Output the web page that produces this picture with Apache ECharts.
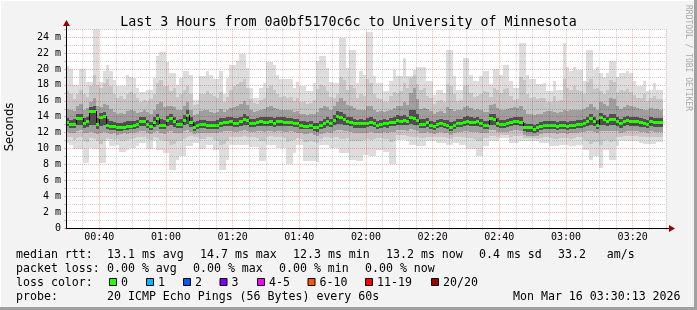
<!DOCTYPE html>
<html><head><meta charset="utf-8">
<script src="https://cdn.jsdelivr.net/npm/echarts@6/dist/echarts.min.js"></script>
<style>html,body{margin:0;padding:0;background:#f3f3f3}#c{width:697px;height:310px}</style>
</head><body><div id="c"></div>
<script>
// minutes since midnight of the first one-minute step (00:30)
const startMinute = 30;
const xTickLabels = ['00:40','01:00','01:20','01:40','02:00','02:20','02:40','03:00','03:20'];
const yTickLabels = ['0','2 m','4 m','6 m','8 m','10 m','12 m','14 m','16 m','18 m','20 m','22 m','24 m'];

// median rtt per minute (ms)
const median = [13.3,13.1,13.1,13.8,13.8,13.15,13.4,14.75,14.75,13.1,
 13.9,14.1,13.0,12.8,12.8,12.7,12.65,12.75,12.85,12.85,
 13.0,13.1,13.4,13.4,13.1,12.8,13.3,13.8,12.95,12.95,
 13.55,13.8,13.4,13.1,13.1,13.6,14.2,13.3,12.75,12.95,
 13.1,13.1,13.0,13.0,13.0,13.0,13.2,13.3,13.3,13.4,
 13.2,13.2,13.4,13.65,13.55,13.2,13.2,13.3,13.4,13.35,
 13.3,13.4,13.2,13.4,13.4,13.35,13.3,13.3,13.2,13.2,
 12.95,12.85,12.85,13.0,12.7,12.65,12.95,13.15,13.4,13.2,
 13.6,14.1,14.0,13.7,13.5,13.3,13.15,13.15,13.15,13.15,
 13.2,13.3,13.2,13.0,13.1,13.2,13.15,13.3,13.3,13.6,
 13.5,13.55,13.4,13.9,13.8,13.6,13.1,13.1,13.3,13.0,
 12.8,13.1,13.2,13.1,12.95,12.7,13.0,13.2,13.2,13.3,
 13.5,13.35,13.3,13.4,13.2,12.95,12.95,13.8,13.7,13.2,
 13.1,13.1,13.2,13.3,13.45,13.45,13.3,12.65,12.65,12.65,
 12.5,12.65,12.8,12.95,13.0,13.0,13.0,12.8,12.95,12.95,
 12.8,12.95,13.0,13.1,13.1,13.2,13.4,13.8,13.4,13.0,
 13.9,13.65,13.4,13.65,13.65,13.4,13.15,13.4,13.6,13.45,
 13.4,13.4,13.3,13.2,13.1,13.4,13.3,13.3,13.3];

// smoke envelope: highest ping per minute
const hi1 = [20.4,20.0,18.0,18.0,20.0,20.0,18.4,18.4,25.3,25.3,
 18.4,19.7,20.5,19.7,18.6,17.8,17.8,17.8,19.3,19.0,
 18.9,17.6,17.1,17.1,17.4,17.4,18.9,21.6,22.1,22.1,
 20.9,19.5,19.5,18.0,18.9,19.7,19.7,19.3,16.1,16.1,
 19.1,19.1,19.7,19.3,18.7,18.7,19.7,16.8,18.9,20.5,
 20.5,21.0,21.9,21.9,20.1,17.6,16.4,16.4,17.6,18.2,
 20.9,20.9,20.5,19.3,18.7,18.7,18.7,18.7,17.6,18.4,
 17.8,17.8,17.2,17.2,18.2,21.0,21.6,21.6,20.1,18.4,
 18.2,18.2,23.9,23.9,20.1,22.4,22.4,18.3,19.7,19.3,
 24.65,24.65,19.1,18.3,18.3,17.2,17.2,18.5,19.9,19.1,
 19.1,21.4,19.1,19.1,19.9,20.3,20.3,20.3,18.5,18.5,
 16.7,17.4,17.4,17.0,22.4,22.4,19.1,17.4,17.4,21.4,
 21.4,19.3,18.5,18.5,19.1,19.7,19.7,18.1,20.0,20.0,
 19.3,20.5,20.5,18.5,17.6,17.6,23.3,23.3,19.3,18.7,
 18.7,18.1,18.1,18.3,17.2,17.2,18.5,17.4,17.4,23.3,
 20.3,19.7,20.3,19.9,19.9,18.5,22.4,22.4,19.9,20.3,
 19.5,19.0,19.5,21.0,21.0,19.0,19.5,19.5,19.8,19.5,
 18.5,17.8,17.8,18.5,17.2,17.4,18.2,17.4,17.4];
const hi2 = [17.2,16.8,16.2,16.9,17.4,16.8,16.5,17.8,19.2,18.0,
 17.6,18.3,18.8,17.9,16.9,16.4,16.6,16.2,16.8,17.1,
 16.9,16.3,15.9,16.1,16.0,16.2,16.8,18.2,18.6,17.9,
 17.8,17.2,17.6,16.5,16.9,17.4,17.8,16.9,15.5,15.6,
 16.8,16.9,17.2,16.9,16.6,16.4,17.1,15.9,16.5,17.4,
 17.8,18.1,18.4,18.7,17.6,16.2,15.7,15.6,16.1,16.4,
 17.6,17.8,17.3,16.9,16.5,16.6,16.4,16.5,16.0,16.3,
 15.9,15.8,15.6,15.7,16.1,17.5,18.0,17.8,17.2,16.5,
 16.4,16.9,19.0,18.6,17.4,18.0,17.6,16.3,16.9,16.6,
 18.8,18.2,16.9,16.4,16.2,15.8,15.9,16.6,17.1,17.0,
 17.2,18.3,17.6,18.9,19.3,18.1,17.4,17.6,16.6,16.4,
 15.6,16.0,16.1,15.8,18.1,17.9,16.8,16.0,16.1,17.9,
 18.0,17.0,16.5,16.6,16.9,17.2,17.1,16.5,17.6,17.3,
 17.0,17.5,17.6,16.6,16.1,16.2,19.0,18.6,16.8,16.4,
 16.5,16.2,16.3,16.4,15.8,15.9,16.6,16.0,16.1,18.8,
 17.6,17.3,17.8,17.4,17.2,16.9,18.4,18.7,17.5,17.6,
 17.2,16.9,17.4,18.6,18.4,17.1,17.3,17.2,17.5,17.1,
 16.7,16.3,16.4,16.8,16.0,16.3,16.6,16.2,16.2];
const hi3 = [15.0,14.8,14.7,15.4,15.6,14.9,15.1,15.9,16.4,15.3,
 15.2,15.6,15.5,15.0,14.6,14.4,14.5,14.3,14.7,14.8,
 14.7,14.5,14.6,14.8,14.6,14.3,14.9,15.6,15.9,15.2,
 15.3,15.4,15.2,14.8,14.9,15.3,15.8,14.9,14.2,14.4,
 14.7,14.8,14.9,14.6,14.5,14.6,15.0,14.6,14.8,15.1,
 15.2,15.3,15.6,16.0,15.5,14.8,14.6,14.7,14.9,15.0,
 15.2,15.4,15.1,15.0,14.9,14.9,14.8,14.8,14.6,14.7,
 14.4,14.3,14.2,14.4,14.3,14.6,15.1,15.3,15.2,14.9,
 15.4,15.9,16.4,16.0,15.5,15.4,15.1,14.8,14.9,14.8,
 15.3,15.4,14.9,14.6,14.7,14.6,14.7,14.9,15.1,15.4,
 15.4,15.8,15.5,17.0,17.6,16.2,15.0,15.1,15.0,14.7,
 14.4,14.6,14.7,14.5,15.2,15.0,14.7,14.8,14.9,15.2,
 15.4,15.1,14.9,15.0,14.9,14.6,14.6,15.5,15.6,15.1,
 14.9,14.9,15.0,15.1,15.2,15.1,15.3,14.8,14.3,14.3,
 14.2,14.3,14.4,14.6,14.7,14.7,14.6,14.5,14.6,14.9,
 14.7,14.8,14.8,14.9,14.9,15.0,15.2,15.6,15.2,14.9,
 15.8,15.6,15.4,16.4,16.2,15.4,15.0,15.2,15.5,15.3,
 15.2,15.1,15.0,14.9,14.8,15.1,15.0,15.0,14.9];
const hi4 = [13.8,13.6,13.7,14.3,14.4,13.8,14.0,15.2,15.3,13.8,
 14.5,14.6,13.7,13.4,13.3,13.2,13.2,13.3,13.4,13.4,
 13.5,13.6,13.9,13.9,13.6,13.3,13.9,14.4,13.7,13.6,
 14.1,14.3,14.0,13.6,13.7,14.2,14.8,13.9,13.3,13.5,
 13.6,13.6,13.5,13.5,13.5,13.6,13.8,13.8,13.9,14.0,
 13.8,13.8,14.0,14.3,14.1,13.7,13.7,13.8,13.9,13.9,
 13.9,14.0,13.8,13.9,13.9,13.9,13.8,13.8,13.7,13.7,
 13.5,13.4,13.3,13.5,13.2,13.2,13.5,13.7,13.9,13.7,
 14.2,14.7,14.6,14.3,14.0,13.9,13.7,13.6,13.7,13.6,
 13.8,13.9,13.7,13.5,13.6,13.7,13.6,13.8,13.9,14.2,
 14.1,14.2,14.0,14.8,14.9,14.3,13.7,13.7,13.8,13.5,
 13.3,13.6,13.7,13.6,13.6,13.3,13.5,13.7,13.7,13.9,
 14.1,13.9,13.8,13.9,13.7,13.5,13.5,14.4,14.3,13.8,
 13.6,13.6,13.7,13.8,14.0,14.0,13.9,13.2,13.1,13.1,
 13.0,13.1,13.3,13.4,13.5,13.5,13.5,13.3,13.4,13.5,
 13.3,13.4,13.5,13.6,13.6,13.7,14.0,14.4,14.0,13.6,
 14.5,14.2,14.0,14.4,14.3,14.0,13.7,13.9,14.1,14.0,
 13.9,13.9,13.8,13.7,13.6,13.9,13.8,13.8,13.8];
const lo4 = [12.8,12.6,12.6,12.9,12.9,12.6,12.7,13.0,12.9,12.5,
 12.8,12.9,12.5,12.3,12.3,12.2,12.2,12.3,12.3,12.4,
 12.5,12.6,12.8,12.8,12.6,12.3,12.7,12.9,12.4,12.4,
 12.8,12.9,12.7,12.6,12.6,12.9,13.1,12.7,12.2,12.4,
 12.6,12.6,12.5,12.5,12.5,12.5,12.7,12.8,12.8,12.8,
 12.7,12.7,12.8,12.9,12.9,12.7,12.7,12.8,12.8,12.8,
 12.8,12.8,12.7,12.8,12.8,12.8,12.8,12.8,12.7,12.7,
 12.5,12.4,12.4,12.5,12.2,12.1,12.4,12.6,12.8,12.7,
 12.9,13.1,13.1,12.9,12.9,12.8,12.6,12.6,12.6,12.6,
 12.7,12.8,12.7,12.5,12.6,12.7,12.6,12.8,12.8,13.0,
 12.9,13.0,12.9,13.1,13.0,12.9,12.6,12.6,12.7,12.5,
 12.3,12.6,12.7,12.6,12.4,12.2,12.5,12.7,12.7,12.8,
 12.9,12.8,12.8,12.8,12.7,12.4,12.4,13.0,13.0,12.7,
 12.6,12.6,12.7,12.8,12.9,12.9,12.8,12.2,12.1,12.1,
 12.0,12.1,12.3,12.4,12.5,12.5,12.5,12.3,12.4,12.4,
 12.3,12.4,12.5,12.6,12.6,12.7,12.8,13.0,12.8,12.5,
 13.0,12.9,12.8,12.9,12.9,12.8,12.6,12.8,12.9,12.8,
 12.8,12.8,12.7,12.7,12.6,12.8,12.7,12.7,12.7];
const lo3 = [12.1,12.0,11.9,12.2,12.3,12.0,12.0,12.1,12.0,11.8,
 11.9,12.1,11.9,11.8,11.9,11.7,11.8,11.9,11.8,12.0,
 12.0,12.1,12.2,12.2,12.0,11.8,12.1,12.2,11.9,11.8,
 12.1,12.2,12.0,11.9,12.0,12.2,12.3,12.1,11.8,11.9,
 12.0,12.0,11.9,12.0,11.9,11.9,12.1,12.2,12.2,12.2,
 12.1,12.1,12.2,12.3,12.2,12.1,12.1,12.2,12.2,12.1,
 12.2,12.2,12.1,12.2,12.2,12.1,12.1,12.2,12.1,12.0,
 11.9,11.8,11.8,11.9,11.7,11.6,11.8,12.0,12.1,12.0,
 12.2,12.3,12.3,12.2,12.2,12.1,12.0,12.0,12.0,12.0,
 12.0,12.1,12.0,11.9,12.0,12.1,12.0,12.1,12.1,12.3,
 12.3,12.3,12.2,12.4,12.3,12.2,12.0,12.0,12.1,11.9,
 11.8,12.0,12.1,12.0,11.9,11.7,11.9,12.1,12.1,12.2,
 12.2,12.1,12.1,12.1,12.0,11.9,11.9,12.3,12.3,12.1,
 12.1,12.1,12.1,12.2,12.3,12.3,12.2,11.7,11.6,11.6,
 11.6,11.6,11.8,11.9,12.0,12.0,12.0,11.8,11.9,11.9,
 11.8,11.9,12.0,12.0,12.1,12.1,12.2,12.2,12.1,11.9,
 12.2,12.2,12.2,12.2,12.2,12.2,12.0,12.1,12.2,12.2,
 12.2,12.2,12.1,12.1,12.0,12.2,12.1,12.1,12.1];
const lo2 = [11.5,11.4,11.1,11.3,11.5,11.0,10.8,11.3,11.2,11.0,
 10.6,10.9,11.3,11.2,11.1,11.2,10.9,11.0,11.1,11.2,
 11.3,11.4,11.5,11.5,11.2,11.1,11.5,11.3,11.1,10.9,
 11.0,10.4,10.6,10.9,11.0,11.2,11.5,11.6,11.4,11.4,
 11.2,11.2,11.4,11.4,11.1,11.0,10.5,10.6,11.0,11.4,
 11.5,11.4,11.5,11.6,11.5,11.4,11.4,11.3,11.0,11.0,
 11.5,11.6,11.5,11.4,11.4,11.3,10.8,10.9,11.1,11.3,
 11.2,10.8,10.8,10.9,10.8,10.7,11.2,11.4,11.5,11.3,
 11.4,11.5,11.2,11.2,11.3,11.0,11.0,10.9,11.0,11.1,
 11.2,11.1,11.2,11.3,11.3,11.2,11.2,10.8,10.9,11.7,
 11.7,11.7,11.6,11.5,11.5,11.4,11.3,11.3,11.5,11.5,
 11.4,11.5,11.5,11.4,11.3,11.2,11.4,11.5,11.4,11.4,
 11.3,11.3,11.2,10.9,10.9,11.3,11.3,11.6,11.6,11.5,
 11.7,11.7,11.7,11.5,11.6,11.6,11.6,11.3,11.3,11.3,
 11.3,11.2,11.3,11.4,11.4,11.3,11.2,11.2,11.3,11.3,
 11.3,11.2,11.3,11.4,11.4,11.1,11.0,10.6,10.8,10.8,
 10.4,11.0,11.1,10.8,10.9,11.4,11.5,11.6,11.6,11.6,
 11.6,11.6,11.5,11.5,11.4,11.5,11.5,11.5,11.5];
// smoke envelope: lowest ping per minute
const lo1 = [10.7,10.5,9.9,9.9,9.9,8.2,8.2,10.1,9.9,9.9,
 8.2,8.2,10.9,10.3,10.3,10.5,9.5,9.5,9.85,10.1,
 10.1,10.3,10.7,10.7,9.9,9.9,10.9,9.85,9.85,9.4,
 9.4,7.3,7.3,8.6,9.1,9.1,10.3,10.3,10.7,10.7,
 9.9,9.9,10.5,10.5,9.85,9.85,7.3,7.3,8.6,10.5,
 10.5,10.4,10.4,10.4,10.4,10.2,10.2,10.2,8.4,8.4,
 10.5,10.5,10.5,10.1,10.1,10.1,8.0,8.0,9.4,10.5,
 10.5,8.4,8.4,8.4,8.4,8.3,10.5,10.5,10.5,10.1,
 10.1,10.1,9.4,9.4,9.4,8.6,8.6,8.4,8.4,9.2,
 9.2,9.1,9.1,9.85,9.85,9.6,9.6,8.0,8.0,11.1,
 11.1,11.1,10.9,10.5,10.5,10.3,10.3,10.3,10.9,10.9,
 10.9,10.7,10.7,10.7,10.5,10.5,10.7,10.7,10.4,10.4,
 9.9,9.9,9.9,9.0,9.0,10.3,10.3,10.9,10.9,10.9,
 11.3,11.3,11.3,10.7,10.7,10.7,10.9,10.9,10.9,10.9,
 10.9,10.9,10.7,10.7,10.7,10.3,10.3,10.3,10.5,10.5,
 10.5,10.3,10.3,10.5,10.5,9.85,9.85,8.6,9.0,9.0,
 7.5,9.85,9.85,8.6,8.6,10.3,10.9,11.0,11.0,11.0,
 11.0,11.0,10.7,10.6,10.6,10.6,10.6,10.8,10.8];

const lossLabels = ['0','1','2','3','4-5','6-10','11-19','20/20'];
const lossColors = ['#26ff00','#00b8ff','#0059ff','#7e00ff','#ff00ff','#ff5500','#ff0000','#a10000'];

const MONO = '"DejaVu Sans Mono", monospace';
const shades = ['#dddddd','#c6c6c6','#9e9e9e','#505050'];

const data = median.map((m, i) => [startMinute + i, lo1[i], hi1[i], lo2[i], hi2[i], lo3[i], hi3[i], lo4[i], hi4[i], m]);

function renderItem(params, api) {
  const i = params.dataIndex;
  const t = api.value(0);
  const cs = params.coordSys;
  const box = {x: cs.x, y: cs.y, width: cs.width, height: cs.height};
  const x0 = Math.round(api.coord([t, 0])[0]);
  const x1 = Math.round(api.coord([t + 1, 0])[0]);
  const children = [];
  for (let b = 0; b < 4; b++) {
    const yTop = Math.round(api.coord([t, api.value(2 + 2 * b)])[1]);
    const yBot = Math.round(api.coord([t, api.value(1 + 2 * b)])[1]);
    const r = echarts.graphic.clipRectByRect({x: x0, y: yTop, width: x1 - x0, height: yBot - yTop}, box);
    if (r) children.push({type: 'rect', shape: r, style: {fill: shades[b]}});
  }
  const ym = Math.round(api.coord([t, api.value(9)])[1]);
  if (i > 0) {
    const yp = Math.round(api.coord([t, median[i - 1]])[1]);
    if (yp !== ym) {
      children.push({type: 'rect', shape: {x: x0, y: Math.min(yp, ym), width: 1, height: Math.abs(yp - ym)}, style: {fill: '#000'}});
    }
  }
  children.push({type: 'rect', shape: {x: x0, y: ym - 1, width: x1 - x0, height: 3}, style: {fill: lossColors[0]}});
  return {type: 'group', children};
}

function fmtTime(v) {
  const h = Math.floor(v / 60), m = v % 60;
  return String(h).padStart(2, '0') + ':' + String(m).padStart(2, '0');
}

const RED = 'rgba(255,0,0,0.3)';
const GRAY = 'rgba(0,0,0,0.18)';

const TXT = (x, y, text) => ({type: 'text', x, y, style: {text, font: '11.6px ' + MONO, fill: '#000', verticalAlign: 'middle'}});

const graphic = [
  // frame
  {type: 'rect', shape: {x: 0, y: 0, width: 697, height: 1}, style: {fill: '#ffffff'}, silent: true},
  {type: 'rect', shape: {x: 0, y: 0, width: 1, height: 310}, style: {fill: '#ffffff'}, silent: true},
  {type: 'rect', shape: {x: 694, y: 0, width: 3, height: 310}, style: {fill: '#a0a0a0'}, silent: true},
  {type: 'rect', shape: {x: 0, y: 307, width: 697, height: 3}, style: {fill: '#a0a0a0'}, silent: true},
  // axis extensions and arrows
  {type: 'rect', shape: {x: 66, y: 25, width: 1, height: 5}, style: {fill: '#000'}, z: 20},
  {type: 'polygon', shape: {points: [[66.5, 20], [63, 26], [70, 26]]}, style: {fill: '#9b0000'}, z: 20},
  {type: 'rect', shape: {x: 666, y: 228, width: 4, height: 1}, style: {fill: '#000'}, z: 20},
  {type: 'polygon', shape: {points: [[669, 225], [675, 228.5], [669, 232]]}, style: {fill: '#9b0000'}, z: 20},
  // y axis name
  {type: 'text', x: 10, y: 127, rotation: Math.PI / 2, style: {text: 'Seconds', font: '11.6px "DejaVu Sans"', fill: '#000', align: 'center', verticalAlign: 'middle'}},
  // watermark
  {type: 'text', x: 688, y: 5, rotation: -Math.PI / 2, style: {text: 'RRDTOOL / TOBI OETIKER', font: '8px ' + MONO, fill: '#a8a8a8', align: 'left', verticalAlign: 'middle'}},
  // legend
  TXT(16, 254.5, 'median rtt:'),
  TXT(107, 254.5, '13.1 ms avg'),
  TXT(200, 254.5, '14.7 ms max'),
  TXT(293, 254.5, '12.3 ms min'),
  TXT(386, 254.5, '13.2 ms now'),
  TXT(479, 254.5, '0.4 ms sd'),
  TXT(558, 254.5, '33.2   am/s'),
  TXT(16, 268.5, 'packet loss:'),
  TXT(107, 268.5, '0.00 % avg'),
  TXT(193, 268.5, '0.00 % max'),
  TXT(279, 268.5, '0.00 % min'),
  TXT(365, 268.5, '0.00 % now'),
  TXT(16, 282.5, 'loss color:'),
  TXT(16, 296.5, 'probe:'),
  TXT(107, 296.5, '20 ICMP Echo Pings (56 Bytes) every 60s'),
  TXT(513, 296.5, 'Mon Mar 16 03:30:13 2026')
];
const boxX = [109, 146, 183, 219.5, 257, 307.5, 365, 431];
lossLabels.forEach((lab, k) => {
  graphic.push({type: 'rect', shape: {x: boxX[k] + 0.5, y: 278.5, width: 7, height: 7}, style: {fill: lossColors[k], stroke: '#000', lineWidth: 1}});
  graphic.push(TXT(boxX[k] + 12, 282.5, lab));
});

const chart = echarts.init(document.getElementById('c'), null, {renderer: 'canvas'});
chart.setOption({
  animation: false,
  backgroundColor: '#f3f3f3',
  title: {
    text: 'Last 3 Hours from 0a0bf5170c6c to University of Minnesota',
    left: 'center', top: 11,
    textStyle: {fontFamily: MONO, fontSize: 13.3, fontWeight: 'normal', color: '#000'}
  },
  grid: {left: 66, right: 31, top: 29.25, bottom: 82, show: true, backgroundColor: '#ffffff', borderWidth: 0},
  xAxis: {
    type: 'value', min: startMinute, max: startMinute + 180, interval: 5, z: 5,
    axisLine: {show: true, onZero: false, lineStyle: {color: '#000', width: 1}},
    axisTick: {show: true, length: 2, lineStyle: {color: RED}},
    axisLabel: {
      margin: 4, fontFamily: MONO, fontSize: 10, color: '#000',
      formatter: v => { const s = fmtTime(v); return xTickLabels.indexOf(s) >= 0 ? s : ''; }
    },
    splitLine: {show: true, lineStyle: {color: [GRAY, GRAY, RED, GRAY], type: [1, 1], width: 1}}
  },
  yAxis: {
    type: 'value', min: 0, max: 25, interval: 1, z: 5,
    axisLine: {show: true, onZero: false, lineStyle: {color: '#000', width: 1}},
    axisTick: {show: true, length: 2, lineStyle: {color: RED}},
    axisLabel: {
      margin: 5, fontFamily: MONO, fontSize: 10, color: '#000',
      formatter: v => (v % 2 === 0 ? yTickLabels[v / 2] : '')
    },
    splitLine: {show: true, lineStyle: {color: [RED, GRAY], type: [1, 1], width: 1}}
  },
  series: [{
    type: 'custom', renderItem, data, z: 2, silent: true,
    encode: {x: 0, y: [1, 2]}
  }],
  graphic
});
</script></body></html>
